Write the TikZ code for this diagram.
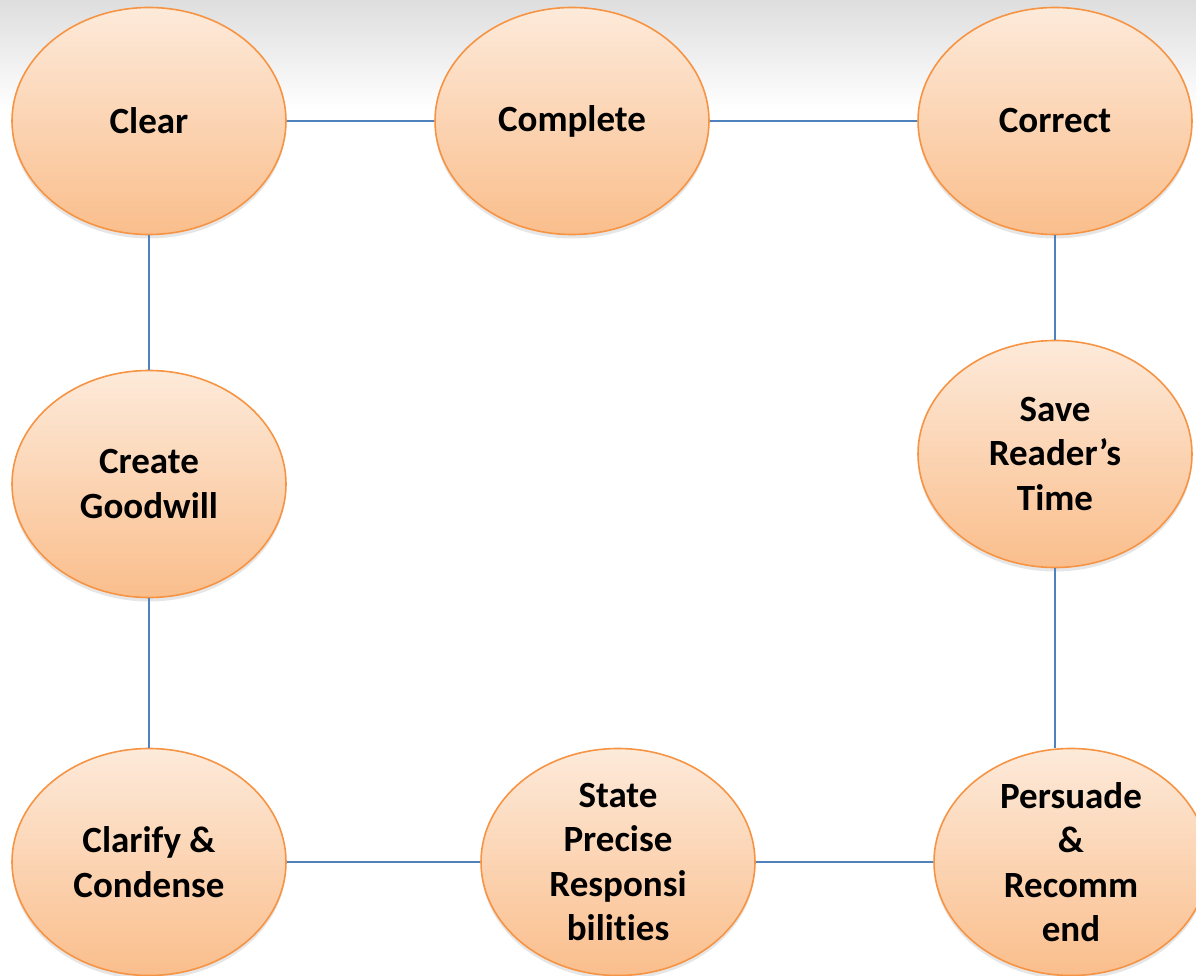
\documentclass[tikz,border=0pt]{standalone}
\usepackage{fontspec}
\setmainfont{Carlito}[RawFeature={-liga;-clig;-calt;-dlig}]
\usetikzlibrary{shapes.geometric,shadows}
\definecolor{peachtop}{RGB}{253,234,218}
\definecolor{peachbot}{RGB}{250,190,140}
\definecolor{peachline}{RGB}{246,148,68}
\definecolor{linkblue}{RGB}{79,129,189}

\begin{document}
\begin{tikzpicture}[x=1pt,y=-1pt
  ,semithick]
  \tikzstyle{trait}=[ellipse,draw=peachline,line width=1.6pt
  ,top color=peachtop,bottom color=peachbot
  ,minimum width=274pt,minimum height=227pt,inner sep=0pt
  ,align=center,font=\fontsize{37}{44.5}\selectfont\bfseries
  ,drop shadow={opacity=.2,shadow xshift=0pt,shadow yshift=-4pt}]
  \tikzstyle{link}=[draw=linkblue,line width=1.4pt]

  \useasboundingbox (0,0) rectangle (1196,976);
  \shade[top color=black!13,bottom color=white] (0,0) rectangle (1196,110);

  \node[trait](clear)    at (149,121)  {Clear};
  \node[trait](complete) at (572,121)  {Complete};
  \node[trait](correct)  at (1055,121) {Correct};
  \node[trait](save)     at (1055,454) {Save\\Reader’s\\Time};
  \node[trait](goodwill) at (149,484)  {Create\\Goodwill};
  \node[trait](clarify)  at (149,862)  {Clarify \&\\Condense};
  \node[trait](state)    at (618,862)  {State\\Precise\\Responsi\\bilit\kern0pt ies};
  \node[trait](persuade) at (1071,862) {Persuade\\\&\\Recomm\\end};

  \path[link]
  (clear)    edge (complete)
  (complete) edge (correct)
  (clarify)  edge (state)
  (state)    edge (persuade)
  (clear)    edge (goodwill)
  (goodwill) edge (clarify)
  (correct)  edge (save)
  (save.south) edge (save.south |- persuade.north)
  ;

\end{tikzpicture}
\end{document}
